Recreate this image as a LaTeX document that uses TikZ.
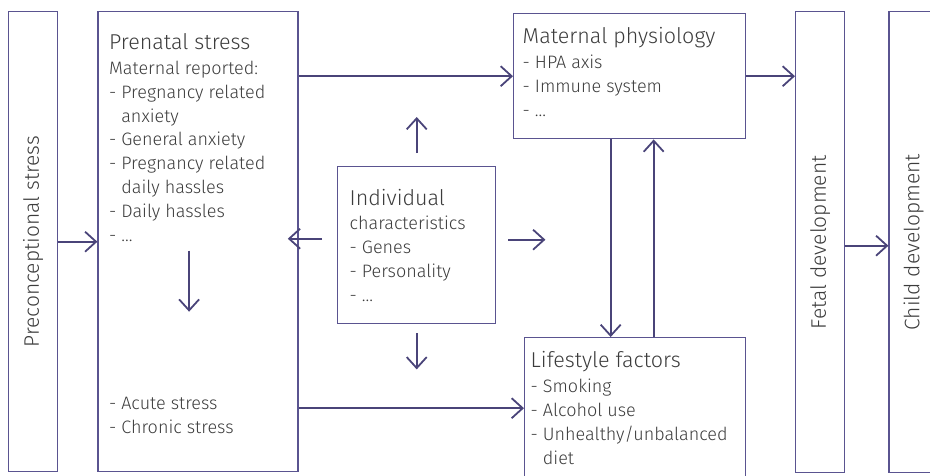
\documentclass[tikz,border=0pt]{standalone}
\usepackage{fontspec}
\setmainfont{Fira Sans}[UprightFont={* Light}]
\usetikzlibrary{arrows.meta, positioning}
\definecolor{boxline}{HTML}{5A5490}
\definecolor{arrowline}{HTML}{4A4479}
\definecolor{textgray}{HTML}{3C3C3C}
\tikzstyle{textbox} = [rectangle, draw=boxline, line width=1.4pt, inner sep=0pt, text=textgray]
\tikzstyle{barbox} = [rectangle, draw=boxline, line width=1.4pt, inner sep=0pt, minimum width=49pt, text=textgray, font=\fontsize{21}{24}\selectfont]
\tikzstyle{arrow} = [draw=arrowline, line width=1.8pt, -{Straight Barb[length=11pt,width=20pt]}]

\begin{document}
\begin{tikzpicture}[x=1pt, y=-1pt]
\useasboundingbox (0,0) rectangle (930,475);
\clip (0,0) rectangle (930,475);

\node (pre) [barbox, anchor=north west, minimum height=460pt] at (8,11) {\rotatebox{90}{Preconceptional stress}};

\node (ps) [textbox, right=39pt of pre] {\parbox[b][460pt][t]{200pt}{\fontsize{18}{23.8}\selectfont\raggedright\leftskip=11pt
\rule{0pt}{38pt}{\fontsize{21.5}{24}\selectfont Prenatal stress}\\[1pt]
Maternal reported:\\
- Pregnancy related\\
\phantom{- }anxiety\\
- General anxiety\\
- Pregnancy related\\
\phantom{- }daily hassles\\
- Daily hassles\\
- ...\par
\vskip 0pt plus 1filll
- Acute stress\\
- Chronic stress\par
\vspace{38pt}}};

\node (mp) [textbox, anchor=north west] at (513,13) {\parbox[b][125pt][t]{232pt}{\fontsize{18}{24}\selectfont\raggedright\leftskip=9pt
\rule{0pt}{30pt}{\fontsize{21.5}{24}\selectfont Maternal physiology}\\[1pt]
- HPA axis\\
- Immune system\\
- ...}};

\node (ic) [textbox, anchor=north west] at (337,166) {\parbox[b][157pt][t]{158pt}{\fontsize{18}{24}\selectfont\raggedright\leftskip=12pt
\rule{0pt}{39pt}{\fontsize{21.5}{24}\selectfont Individual}\\
characteristics\\
- Genes\\
- Personality\\
- ...}};

\node (lf) [textbox, anchor=north west] at (524,337) {\parbox[b][141pt][t]{221pt}{\fontsize{18}{24}\selectfont\raggedright\leftskip=6pt
\rule{0pt}{30pt}{\fontsize{21.5}{24}\selectfont Lifestyle factors}\\[1pt]
- Smoking\\
- Alcohol use\\
- Unhealthy/unbalanced\\
\phantom{- }diet}};

\node (fd) [barbox, anchor=north west, minimum height=461pt] at (795,11) {\rotatebox{90}{Fetal development}};

\node (cd) [barbox, minimum height=461pt, right=43pt of fd] {\rotatebox{90}{Child development}};

\draw [arrow] (pre.east) -- (ps.west);
\draw [arrow] (ps.east |- mp.west) -- (mp.west);
\draw [arrow] (mp.east) -- (mp.east -| fd.west);
\draw [arrow] ([yshift=-3.5pt]fd.east) -- ([yshift=-3.5pt]fd.east -| cd.west);
\draw [arrow] ([xshift=-15pt,yshift=6.5pt]ic.west) -- ([xshift=-11pt,yshift=3pt]ps.east);
\draw [arrow] ([xshift=12pt,yshift=5.5pt]ic.east) -- ([xshift=49pt,yshift=5.5pt]ic.east);
\draw [arrow] ([yshift=13pt]ic.north) -- ([yshift=49pt]ic.north);
\draw [arrow] ([yshift=-9pt]ic.south) -- ([yshift=-45pt]ic.south);
\draw [arrow] ([xshift=-9pt,yshift=-9pt]ps.center) -- ([xshift=-9pt,yshift=-70pt]ps.center);
\draw [arrow] (lf.west -| ps.east) -- (lf.west);
\draw [arrow] ([xshift=-19pt]mp.south) -- ([xshift=-24.5pt]lf.north);
\draw [arrow] ([xshift=18.5pt]lf.north) -- ([xshift=24pt]mp.south);

\end{tikzpicture}
\end{document}
